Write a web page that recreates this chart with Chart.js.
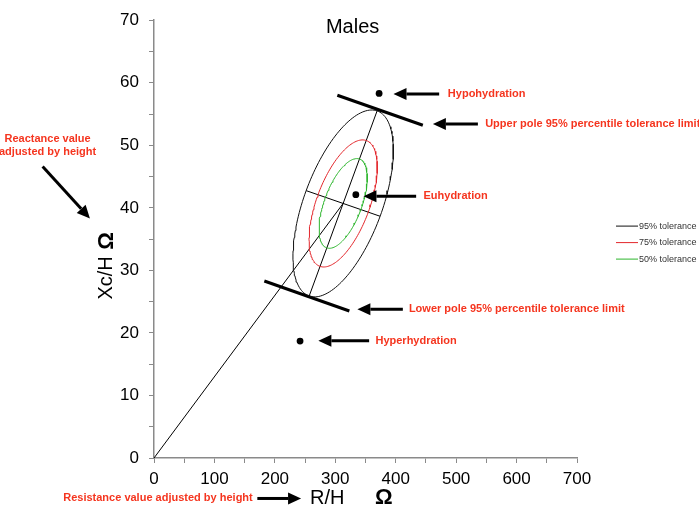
<!DOCTYPE html>
<html>
<head>
<meta charset="utf-8">
<script src="https://cdn.jsdelivr.net/npm/chart.js@4"></script>
<style>
  html, body { margin: 0; padding: 0; background: #fff; }
  canvas { display: block; }
</style>
</head>
<body>
<canvas id="bivaChart" width="699" height="518"></canvas>
<script>
(function () {
    'use strict';

    // tolerance ellipses (R/H, Xc/H)
    var ellipseCenter = [313, 40.7];
    var majorHalf = [56.2, 14.8];
    var minorHalf = [61.2, -2.05];
    var ellipseLabels = ['95% tolerance', '75% tolerance', '50% tolerance'];
    var ellipseScale = [1, 0.68, 0.48];

    // reference lines
    var originLineX = [0, 313];
    var originLineY = [0, 40.7];
    var upperLimitX = [303.4, 444.9];
    var upperLimitY = [58.0, 53.2];
    var lowerLimitX = [182.6, 323.3];
    var lowerLimitY = [28.3, 23.5];

    // example subjects
    var dotNames = ['Hypohydration', 'Euhydration', 'Hyperhydration'];
    var dotX = [372.5, 334, 241.7];
    var dotY = [58.3, 42.1, 18.7];

    var xTicks = [0, 100, 200, 300, 400, 500, 600, 700];
    var yTicks = [0, 10, 20, 30, 40, 50, 60, 70];

    var colors = ['#111', '#e3262b', '#2db52d'];
    var labelRed = '#f5351f';
    var axisGrey = '#8a8a8a';

    function pairs(xs, ys) {
        return xs.map(function (x, i) { return { x: x, y: ys[i] }; });
    }

    function ellipsePoints(k) {
        var pts = [];
        for (var i = 0; i <= 160; i++) {
            var t = i / 160 * Math.PI * 2;
            var c = Math.cos(t), s = Math.sin(t);
            pts.push({
                x: ellipseCenter[0] + k * (c * majorHalf[0] + s * minorHalf[0]),
                y: ellipseCenter[1] + k * (c * majorHalf[1] + s * minorHalf[1])
            });
        }
        return pts;
    }

    var datasets = ellipseLabels.map(function (label, i) {
        return { label: label, data: ellipsePoints(ellipseScale[i]), showLine: true, borderColor: colors[i], borderWidth: 1, pointRadius: 0, fill: false };
    });

    function segment(data, width) {
        return { label: '', data: data, showLine: true, borderColor: '#000', borderWidth: width, pointRadius: 0, fill: false };
    }

    var c = ellipseCenter;
    datasets.push(segment(pairs(originLineX, originLineY), 1));
    datasets.push(segment([{ x: c[0] - majorHalf[0], y: c[1] - majorHalf[1] }, { x: c[0] + majorHalf[0], y: c[1] + majorHalf[1] }], 1));
    datasets.push(segment([{ x: c[0] - minorHalf[0], y: c[1] - minorHalf[1] }, { x: c[0] + minorHalf[0], y: c[1] + minorHalf[1] }], 1));
    datasets.push(segment(pairs(upperLimitX, upperLimitY), 3));
    datasets.push(segment(pairs(lowerLimitX, lowerLimitY), 3));
    datasets.push({ label: '', data: pairs(dotX, dotY), showLine: false, pointRadius: 3.4, pointBackgroundColor: '#000', pointBorderWidth: 0 });

    // arrows and red notes, in data units
    var notes = [
        { text: [dotNames[0]], from: [471.9, 58.2], to: [396.3, 58.2], at: [486.3, 58.2], align: 'left' },
        { text: ['Upper pole 95% percentile tolerance limit'], from: [536, 53.4], to: [461.5, 53.4], at: [548, 53.4], align: 'left' },
        { text: [dotNames[1]], from: [433.8, 41.85], to: [346.6, 41.85], at: [446, 41.85], align: 'left' },
        { text: ['Lower pole 95% percentile tolerance limit'], from: [411.8, 23.8], to: [336.6, 23.8], at: [421.8, 23.8], align: 'left' },
        { text: [dotNames[2]], from: [356, 18.75], to: [272, 18.75], at: [366.5, 18.75], align: 'left' },
        { text: ['Reactance value', 'adjusted by height'], from: [-184.3, 46.6], to: [-106, 38.3], at: [-176.1, 51.0], align: 'center' },
        { text: ['Resistance value adjusted by height'], from: [171, -6.47], to: [243.4, -6.47], at: [163.4, -6.47], align: 'right' }
    ];

    function drawArrow(ctx, x1, y1, x2, y2) {
        var ang = Math.atan2(y2 - y1, x2 - x1);
        var head = 13, half = 6;
        var bx = x2 - head * Math.cos(ang), by = y2 - head * Math.sin(ang);
        ctx.beginPath();
        ctx.moveTo(x1, y1);
        ctx.lineTo(bx, by);
        ctx.lineWidth = 3;
        ctx.strokeStyle = '#000';
        ctx.stroke();
        ctx.beginPath();
        ctx.moveTo(x2, y2);
        ctx.lineTo(bx + half * Math.sin(ang), by - half * Math.cos(ang));
        ctx.lineTo(bx - half * Math.sin(ang), by + half * Math.cos(ang));
        ctx.closePath();
        ctx.fillStyle = '#000';
        ctx.fill();
    }

    var annotations = {
        id: 'annotations',
        afterDatasetsDraw: function (chart) {
            var ctx = chart.ctx;
            var xs = chart.scales.x, ys = chart.scales.y;
            function px(v) { return xs.getPixelForValue(v); }
            function py(v) { return ys.getPixelForValue(v); }
            ctx.save();

            notes.forEach(function (n) {
                drawArrow(ctx, px(n.from[0]), py(n.from[1]), px(n.to[0]), py(n.to[1]));
                ctx.font = 'bold 11px "Liberation Sans", Arial, sans-serif';
                ctx.fillStyle = labelRed;
                ctx.textAlign = n.align;
                ctx.textBaseline = 'middle';
                n.text.forEach(function (line, i) {
                    ctx.fillText(line, px(n.at[0]), py(n.at[1]) + i * 12.5);
                });
            });

            // title
            ctx.fillStyle = '#000';
            ctx.textAlign = 'center';
            ctx.textBaseline = 'middle';
            ctx.font = '20px "Liberation Sans", Arial, sans-serif';
            ctx.fillText('Males', px(328.7), py(68.8));

            // x axis title
            ctx.textAlign = 'left';
            ctx.fillText('R/H', px(258.3), py(-6.4));
            ctx.textAlign = 'center';
            ctx.font = 'bold 22px "Liberation Sans", Arial, sans-serif';
            ctx.fillText('\u03A9', px(380.2), py(-6.4));

            // y axis title
            ctx.save();
            ctx.translate(px(-78.5), py(28.8));
            ctx.rotate(-Math.PI / 2);
            ctx.font = '20px "Liberation Sans", Arial, sans-serif';
            ctx.fillText('Xc/H', 0, 0);
            ctx.restore();
            ctx.save();
            ctx.translate(px(-78.5), py(34.7));
            ctx.rotate(-Math.PI / 2);
            ctx.font = 'bold 22px "Liberation Sans", Arial, sans-serif';
            ctx.fillText('\u03A9', 0, 0);
            ctx.restore();

            // legend
            var lx = chart.chartArea.right + 39;
            var ly = (chart.chartArea.top + chart.chartArea.bottom) / 2 - 13;
            ctx.font = '9px "Liberation Sans", Arial, sans-serif';
            ctx.textAlign = 'left';
            ellipseLabels.forEach(function (label, i) {
                var y = ly + i * 16.5;
                ctx.beginPath();
                ctx.moveTo(lx, y);
                ctx.lineTo(lx + 22, y);
                ctx.lineWidth = 1;
                ctx.strokeStyle = colors[i];
                ctx.stroke();
                ctx.fillStyle = '#333';
                ctx.fillText(label, lx + 23, y);
            });
            ctx.restore();
        }
    };

    function axis(min, max, step, ticks, size, isX) {
        return {
            type: 'linear',
            min: min,
            max: max,
            ticks: {
                stepSize: step,
                autoSkip: false,
                maxRotation: 0,
                padding: isX ? 6 : 10,
                color: '#000',
                font: { family: '"Liberation Sans", Arial, sans-serif', size: 17 },
                callback: function (v) { return ticks.indexOf(v) >= 0 ? String(v) : ''; }
            },
            grid: { drawOnChartArea: false, drawTicks: true, tickLength: 5, color: axisGrey, lineWidth: 1 },
            border: { display: true, color: axisGrey, width: 1.5 },
            afterFit: function (scale) {
                if (isX) { scale.height = size; } else { scale.width = size; }
            }
        };
    }

    new Chart(document.getElementById('bivaChart'), {
        type: 'scatter',
        data: { datasets: datasets },
        options: {
            responsive: false,
            animation: false,
            layout: { padding: { top: 18, right: 122, left: 0, bottom: 0 } },
            plugins: { legend: { display: false }, tooltip: { enabled: false } },
            scales: {
                x: axis(0, 700, 50, xTicks, 60, true),
                y: axis(0, 70, 5, yTicks, 154, false)
            }
        },
        plugins: [annotations]
    });
}());
</script>
</body>
</html>
